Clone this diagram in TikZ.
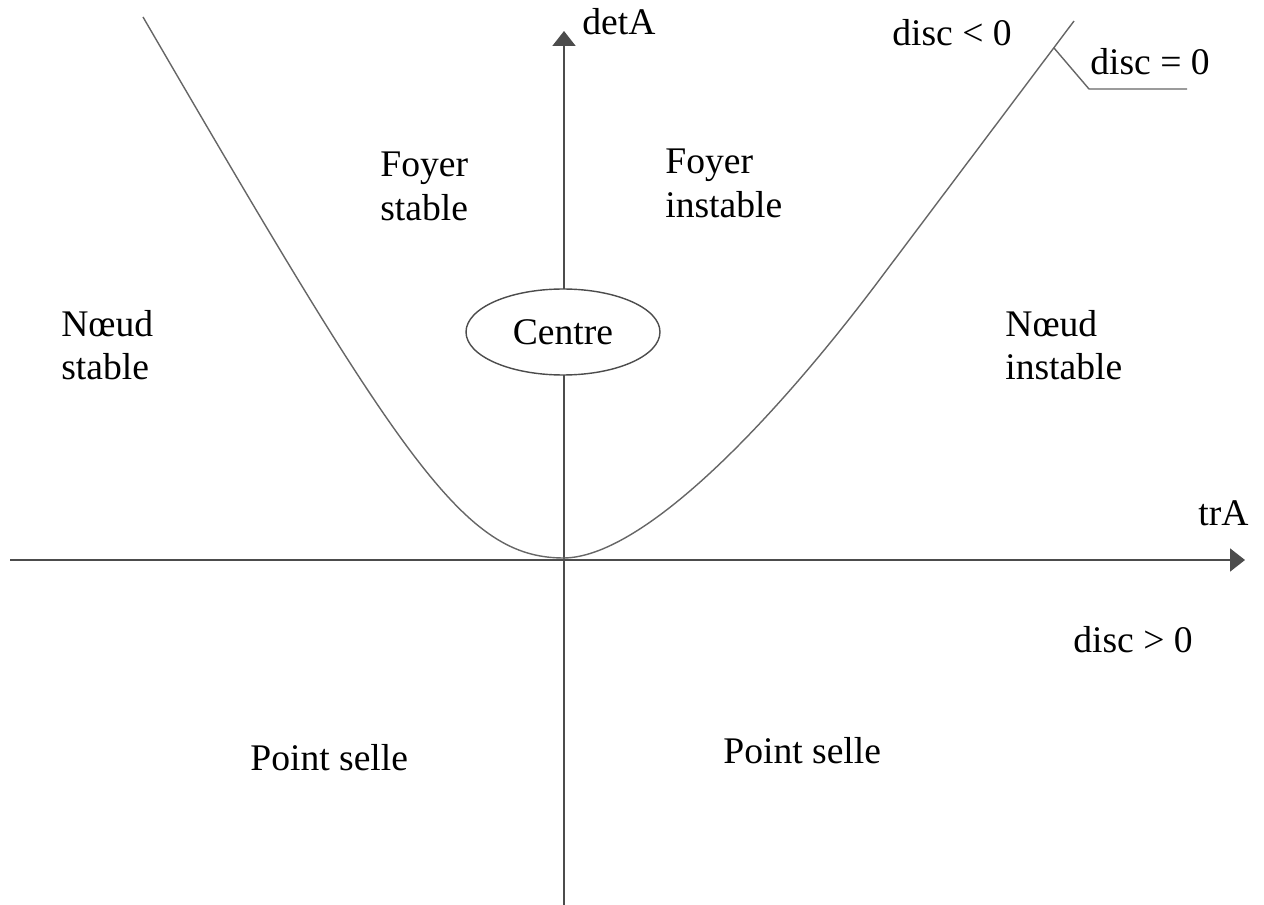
\documentclass[tikz,border=0pt]{standalone}
\usepackage{fontspec}
\setmainfont{Liberation Serif}
\usetikzlibrary{arrows.meta,shapes.geometric}
\begin{document}
\begin{tikzpicture}[x=0.02cm,y=-0.02cm,
  axis/.style={line width=1.1pt,draw=black!70,-{Triangle[length=0.3cm,width=0.46cm]}},
  curve/.style={line width=0.8pt,draw=black!60},
  lbl/.style={font=\fontsize{21.4}{24.5}\selectfont,inner sep=0pt,text=black},
  lbltwo/.style={lbl,align=left,anchor=north west}]
\useasboundingbox (0,0) rectangle (1264,905);
% axes
\coordinate (xl) at (10,560);
\coordinate (xr) at (1245,560);
\coordinate (yb) at (564,905);
\coordinate (yt) at (564,31);
\draw[axis] (xl) -- (xr);
\draw[axis] (yb) -- (yt);
% discriminant curve
\coordinate (ltop) at (143,17);
\coordinate (orig) at (564,558);
\coordinate (rmid) at (874,287);
\coordinate (rtop) at (1074,21);
\draw[curve] (ltop) .. controls (403,464) and (464,558) .. (orig)
  .. controls (640,557) and (764,432) .. (rmid) -- (rtop);
% leader for disc = 0
\coordinate (lj) at (1054,48);
\coordinate (lb) at (1089,89);
\coordinate (le) at (1187,89);
\draw[line width=0.8pt,draw=black!60] (lj) -- (lb) -- (le);
% centre ellipse
\node[ellipse,draw=black!70,line width=0.8pt,fill=white,minimum width=3.88cm,minimum height=1.72cm,inner sep=0pt,lbl] (centre) at (563,332) {Centre};
% labels
\node[lbl,anchor=base west] (det) at (582,35) {detA};
\node[lbl,anchor=base west] (tr) at (1198,525) {trA};
\node[lbl,anchor=base west] (dneg) at (892,46) {disc < 0};
\node[lbl,anchor=base west] (dzero) at (1090,75) {disc = 0};
\node[lbl,anchor=base west] (dpos) at (1073,652) {disc > 0};
\node[lbltwo] (fs) at (380,152) {Foyer\\stable};
\node[lbltwo] (fi) at (665,149) {Foyer\\instable};
\node[lbltwo] (ns) at (61,310) {Nœud\\stable};
\node[lbltwo] (ni) at (1005,310) {Nœud\\instable};
\node[lbl,anchor=base west] (ps1) at (250,770) {Point selle};
\node[lbl,anchor=base west] (ps2) at (723,763) {Point selle};
\end{tikzpicture}
\end{document}
